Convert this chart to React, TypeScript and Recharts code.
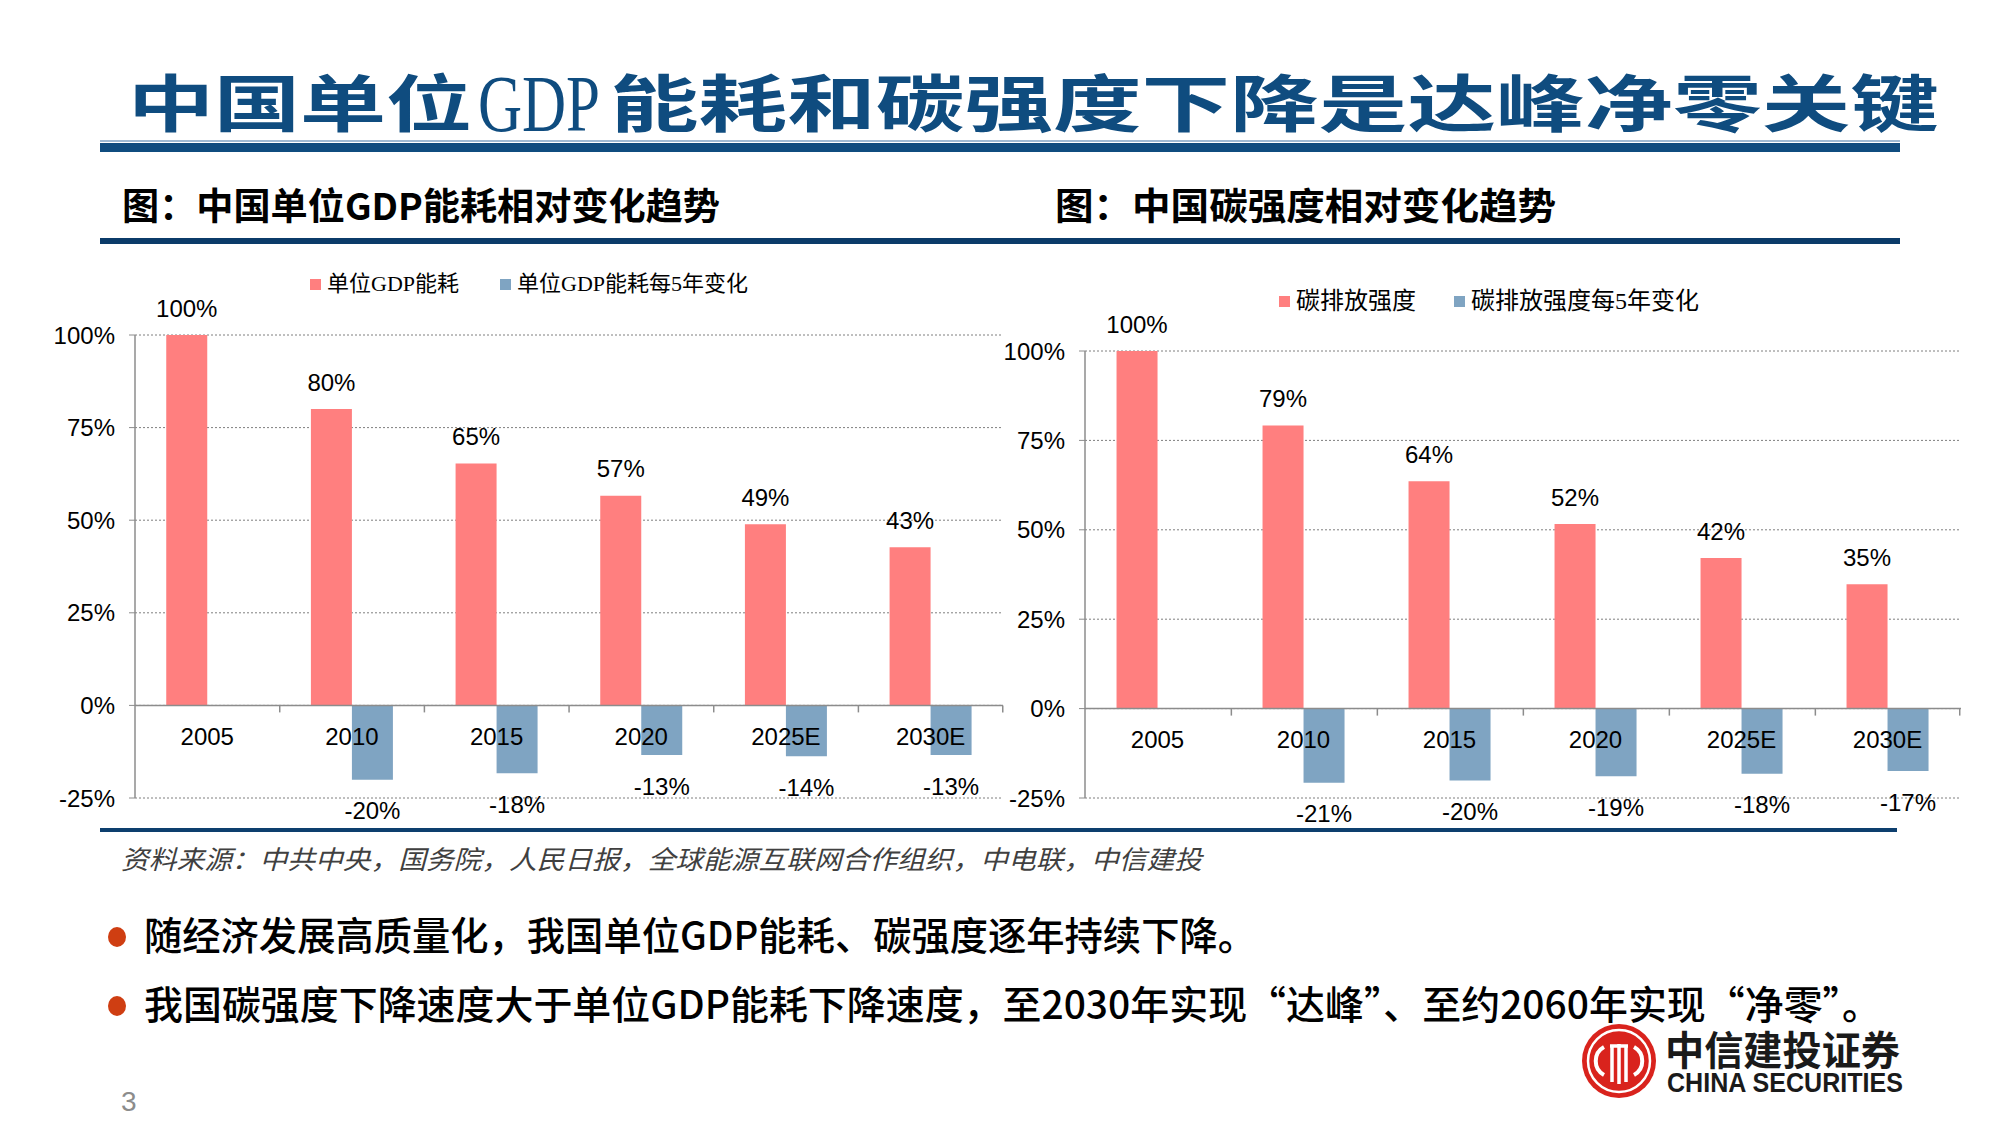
import React from 'react';
import { BarChart, Bar, XAxis, YAxis, CartesianGrid, ReferenceLine, LabelList, Legend } from 'recharts';

// 数据：单位GDP能耗 / 碳排放强度（2005 = 100%）
const years = ['2005', '2010', '2015', '2020', '2025E', '2030E'];
const energyLevel = [1, 0.8, 0.653, 0.566, 0.489, 0.427];
const energyChange = [null, -0.2005, -0.1835, -0.134, -0.137, -0.134];
const carbonLevel = [1, 0.792, 0.636, 0.516, 0.421, 0.348];
const carbonChange = [null, -0.2076, -0.2014, -0.189, -0.182, -0.1745];
const yTicks = [-0.25, 0, 0.25, 0.5, 0.75, 1];

const energyRows = years.map((year, i) => ({ year, level: energyLevel[i], change: energyChange[i] }));
const carbonRows = years.map((year, i) => ({ year, level: carbonLevel[i], change: carbonChange[i] }));

const RED = '#FF7F7F';
const BLUE = '#7FA4C2';
const NAVY = '#0F4C7F';
const GAP = 0.216;
const FONT = '"Liberation Sans", Arial, sans-serif';
const CJK = '"Liberation Serif", "Noto Sans CJK SC", serif';
const CJK_SANS = '"Noto Sans CJK SC", sans-serif';

const pct = (v: number) => `${Math.round(v * 100)}%`;

function ValueLabel(props: any) {
  const vb = props.viewBox ?? props;
  const { x, y, width, height } = vb;
  const value = props.value;
  if (value == null || x == null) return null;
  const top = Math.min(y, y + height);
  const bottom = Math.max(y, y + height);
  return (
    <text
      x={x + width / 2}
      y={value < 0 ? bottom + 31 : top - 27}
      textAnchor="middle"
      dominantBaseline="central"
      fontSize={24}
      fontFamily={FONT}
      fill="#000"
    >
      {pct(value)}
    </text>
  );
}

// category names sit under the zero line, like Excel's axis crossing at 0
function CategoryLabel(props: any) {
  const vb = props.viewBox ?? props;
  const { x, y, width, height } = vb;
  const idx = years.indexOf(props.value);
  if (x == null || idx < 0) return null;
  const zero = Math.max(y, y + height);
  const center = x + width;
  const band = (2 * width) / (1 - 2 * GAP);
  const left = center - band / 2;
  const right = center + band / 2;
  return (
    <g>
      {idx > 0 && <line x1={left} x2={left} y1={zero} y2={zero + 7} stroke="#8c8c8c" strokeWidth={1.5} />}
      {idx === years.length - 1 && (
        <line x1={right} x2={right} y1={zero} y2={zero + 7} stroke="#8c8c8c" strokeWidth={1.5} />
      )}
      <text x={center} y={zero + 31} textAnchor="middle" dominantBaseline="central" fontSize={24} fontFamily={FONT} fill="#000">
        {props.value}
      </text>
    </g>
  );
}

function LegendBox(props: any) {
  const items = props.payload || [];
  return (
    <div style={{ display: 'flex', gap: props.gap, fontFamily: CJK, fontSize: props.fontSize, lineHeight: '26px', color: '#000' }}>
      {items.map((it: any) => (
        <span key={it.value} style={{ display: 'flex', alignItems: 'center', whiteSpace: 'nowrap' }}>
          <span style={{ width: 11, height: 11, background: it.color, marginRight: 6, display: 'inline-block' }} />
          {it.value}
        </span>
      ))}
    </div>
  );
}

interface PanelProps {
  rows: any[];
  levelName: string;
  changeName: string;
  left: number;
  width: number;
  axisWidth: number;
  margin: { top: number; right: number; bottom: number; left: number };
  legendLeft: number;
  legendTop: number;
  legendFont: number;
  legendGap: number;
}

function Panel({ rows, levelName, changeName, left, width, axisWidth, margin, legendLeft, legendTop, legendFont, legendGap }: PanelProps) {
  return (
    <div style={{ position: 'absolute', left, top: 250 }}>
      <BarChart width={width} height={600} data={rows} margin={margin} barCategoryGap={`${GAP * 100}%`} barGap={0}>
        <CartesianGrid vertical={false} stroke="#7f7f7f" strokeDasharray="2 2" />
        <XAxis dataKey="year" hide />
        <YAxis
          domain={[-0.25, 1]}
          ticks={yTicks}
          tickFormatter={pct}
          width={axisWidth}
          axisLine={{ stroke: '#8c8c8c', strokeWidth: 1.5 }}
          tickLine={{ stroke: '#8c8c8c' }}
          tickSize={6}
          tickMargin={14}
          tick={{ fontSize: 24, fontFamily: FONT, fill: '#000' }}
          interval={0}
        />
        <Legend
          verticalAlign="top"
          content={<LegendBox fontSize={legendFont} gap={legendGap} />}
          wrapperStyle={{ left: legendLeft, top: legendTop, width: 560 }}
        />
        <Bar dataKey="level" name={levelName} fill={RED} isAnimationActive={false}>
          <LabelList dataKey="level" content={<ValueLabel />} />
          <LabelList dataKey="year" content={<CategoryLabel />} />
        </Bar>
        <Bar dataKey="change" name={changeName} fill={BLUE} isAnimationActive={false}>
          <LabelList dataKey="change" content={<ValueLabel />} />
        </Bar>
        <ReferenceLine y={0} stroke="#8c8c8c" strokeWidth={1.5} />
      </BarChart>
    </div>
  );
}

function Slide() {
  return (
    <svg width={2000} height={1125} style={{ position: 'absolute', left: 0, top: 0 }}>
      {/* title */}
      <text x={128} y={127} fontSize={62} fontWeight={700} fontFamily={CJK_SANS} fill={NAVY} textLength={344} lengthAdjust="spacingAndGlyphs">
        中国单位
      </text>
      <text x={478} y={131} fontSize={80} fontFamily='"Liberation Serif", serif' fill={NAVY} textLength={122} lengthAdjust="spacingAndGlyphs">
        GDP
      </text>
      <text x={610} y={127} fontSize={62} fontWeight={700} fontFamily={CJK_SANS} fill={NAVY} textLength={1329} lengthAdjust="spacingAndGlyphs">
        能耗和碳强度下降是达峰净零关键
      </text>
      <rect x={100} y={140} width={1800} height={2} fill="#9fbad3" />
      <rect x={100} y={143} width={1800} height={9} fill={NAVY} />

      {/* chart captions */}
      <text x={122} y={220} fontSize={37} fontWeight={700} fontFamily={CJK_SANS} fill="#000" textLength={598} lengthAdjust="spacingAndGlyphs">
        图：中国单位GDP能耗相对变化趋势
      </text>
      <text x={1055} y={220} fontSize={37} fontWeight={700} fontFamily={CJK_SANS} fill="#000" textLength={501} lengthAdjust="spacingAndGlyphs">
        图：中国碳强度相对变化趋势
      </text>
      <rect x={100} y={238} width={1800} height={6} fill="#0b3b69" />

      {/* source */}
      <rect x={100} y={828} width={1797} height={4} fill="#0d3f6e" />
      <text x={121} y={869} fontSize={26} fontStyle="italic" fontFamily={CJK_SANS} fill="#404040" textLength={1081} lengthAdjust="spacingAndGlyphs">
        资料来源：中共中央，国务院，人民日报，全球能源互联网合作组织，中电联，中信建投
      </text>

      {/* bullets */}
      <ellipse cx={117} cy={937} rx={9} ry={10} fill="#CF3E12" />
      <text x={144} y={950} fontSize={39} fontWeight={500} fontFamily={CJK_SANS} fill="#000" textLength={1112} lengthAdjust="spacingAndGlyphs">
        随经济发展高质量化，我国单位GDP能耗、碳强度逐年持续下降。
      </text>
      <ellipse cx={117} cy={1006} rx={9} ry={10} fill="#CF3E12" />
      <text x={144} y={1019} fontSize={39} fontWeight={500} fontFamily={CJK_SANS} fill="#000" textLength={1737} lengthAdjust="spacingAndGlyphs">
        我国碳强度下降速度大于单位GDP能耗下降速度，至2030年实现“达峰”、至约2060年实现“净零”。
      </text>

      {/* page number */}
      <text x={121} y={1111} fontSize={28} fontFamily={FONT} fill="#8c8c8c">
        3
      </text>

      {/* logo */}
      <circle cx={1619} cy={1061} r={37} fill="#D9231D" />
      <circle cx={1619} cy={1061} r={31} fill="none" stroke="#fff" strokeWidth={2.5} />
      <path d="M1604 1047 a16 16 0 0 0 0 28" fill="none" stroke="#fff" strokeWidth={4} />
      <path d="M1634 1047 a16 16 0 0 1 0 28" fill="none" stroke="#fff" strokeWidth={4} />
      <path d="M1612 1082 V1046 M1619 1084 V1044 M1626 1082 V1046 M1610 1046 H1628" stroke="#fff" strokeWidth={3.5} fill="none" />
      <text x={1665} y={1065} fontSize={40} fontWeight={700} fontFamily={CJK_SANS} fill="#1a1a1a" textLength={235} lengthAdjust="spacingAndGlyphs">
        中信建投证券
      </text>
      <text x={1667} y={1092} fontSize={28} fontWeight={700} fontFamily={FONT} fill="#1a1a1a" textLength={236} lengthAdjust="spacingAndGlyphs">
        CHINA SECURITIES
      </text>
    </svg>
  );
}

export default function App() {
  return (
    <div style={{ position: 'absolute', left: 0, top: 0, width: 2000, height: 1125, background: '#fff', overflow: 'hidden' }}>
      <Slide />
      <Panel
        rows={energyRows}
        levelName="单位GDP能耗"
        changeName="单位GDP能耗每5年变化"
        left={0}
        width={1020}
        axisWidth={135}
        margin={{ top: 59, right: 17, bottom: 52, left: 0 }}
        legendLeft={310}
        legendTop={21}
        legendFont={22}
        legendGap={41}
      />
      <Panel
        rows={carbonRows}
        levelName="碳排放强度"
        changeName="碳排放强度每5年变化"
        left={990}
        width={1000}
        axisWidth={95}
        margin={{ top: 75, right: 29, bottom: 52, left: 0 }}
        legendLeft={289}
        legendTop={38}
        legendFont={24}
        legendGap={38}
      />
    </div>
  );
}
